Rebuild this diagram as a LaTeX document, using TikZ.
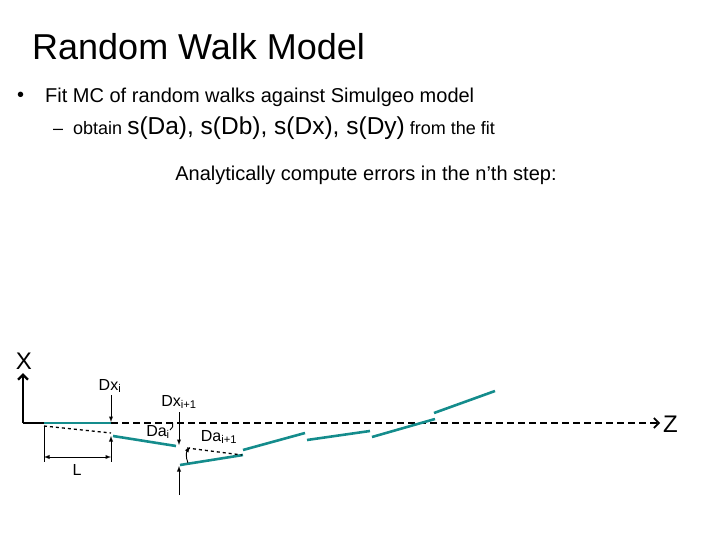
\documentclass[tikz,border=0pt]{standalone}
\usepackage{fontspec}
\usetikzlibrary{arrows.meta}
\setmainfont{Liberation Sans}
\begin{document}
\begin{tikzpicture}[x=1pt,y=-1pt,
 seg/.style={line width=2.6pt,draw={rgb,255:red,20;green,140;blue,140}},
 dsh/.style={line width=1.6pt,dash pattern=on 7pt off 4pt},
 ar/.style={-latex,line width=0.9pt},
 lbl/.style={inner sep=0pt,font=\fontsize{16}{18}\selectfont}]
\useasboundingbox (0,0) rectangle (720,540);
\node[anchor=west,inner sep=0pt,font=\fontsize{36}{40}\selectfont] (title) at (32,47) {Random Walk Model};
\node[anchor=west,inner sep=0pt,font=\fontsize{20}{22}\selectfont] (bul) at (17,97) {•};
\node[anchor=west,inner sep=0pt,font=\fontsize{20}{22}\selectfont] (b1) at (45,97) {Fit MC of random walks against Simulgeo model};
\node[anchor=west,inner sep=0pt,font=\fontsize{18}{22}\selectfont] (b2) at (53,128) {–\hspace{10pt}obtain {\fontsize{24.5}{26}\selectfont s(Da), s(Db), s(Dx), s(Dy)} from the fit};
\node[inner sep=0pt,font=\fontsize{20}{22}\selectfont] (t3) at (366,175) {Analytically compute errors in the n’th step:};
% axes
\coordinate (o) at (23,423);
\coordinate (xt) at (23,373);
\coordinate (ze) at (660,423);
\draw[line width=2.4pt,-{Straight Barb[length=5pt]}] (o) -- (xt);
\draw[line width=2.4pt] (o) -- (44,423);
\draw[dsh,-{Straight Barb[length=5pt]}] (111,423) -- (ze);
\node[lbl,font=\fontsize{24}{26}\selectfont] (X) at (24,361) {X};
\node[lbl,font=\fontsize{24}{26}\selectfont,anchor=west] (Z) at (663,424) {Z};
% segments
\draw[seg] (44,423) -- (111,423);
\draw[seg] (113,436) -- (176,446);
\draw[seg] (180,465) -- (243,455);
\draw[seg] (243,450) -- (305,433);
\draw[seg] (307,440) -- (370,431);
\draw[seg] (372,437) -- (435,419);
\draw[seg] (434,413) -- (495,391);
% dashed extensions
\draw[dashed,line width=1.3pt] (44,426) -- (111,433);
\draw[dashed,line width=1.3pt] (187,448) -- (242,455);
% arrows
\draw[ar] (111,395) -- (111,422);
\draw[ar] (111,460) -- (111,436);
\draw[line width=0.7pt] (44,426) -- (44,462) (111,440) -- (111,462);
\draw[latex-latex,line width=0.9pt] (44,457) -- (111,457);
\draw[ar] (179,412) -- (179,445);
\draw[ar] (179,495) -- (179,466);
\draw[line width=0.9pt] (170,430) arc[start angle=60,end angle=-20,radius=6];
\draw[ar] (188,463) to[bend left=30] (190,447);
% labels
\node[lbl] (dxi) at (110,386) {Dx\textsubscript{i}};
\node[lbl] (dxi1) at (179,402) {Dx\textsubscript{i+1}};
\node[lbl] (dai) at (158,432) {Da\textsubscript{i}};
\node[lbl] (dai1) at (219,437) {Da\textsubscript{i+1}};
\node[lbl] (L) at (77,470) {L};
\end{tikzpicture}
\end{document}
